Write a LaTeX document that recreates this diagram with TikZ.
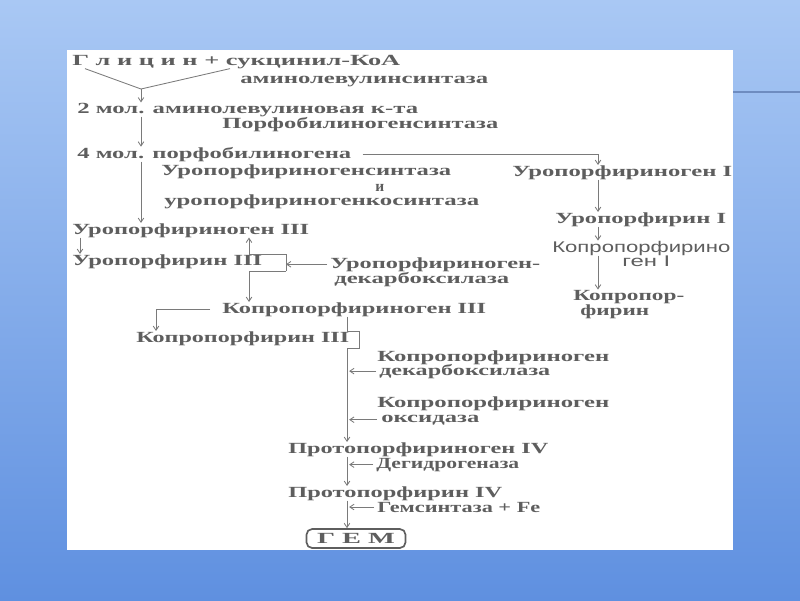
\documentclass[tikz,border=0pt]{standalone}
\usepackage{fontspec}
\setmainfont{Liberation Serif}
\newfontfamily\sansface{Liberation Sans}
\usetikzlibrary{arrows.meta,calc}
\definecolor{skytop}{HTML}{A9C8F4}
\definecolor{skymid}{HTML}{88AEEA}
\definecolor{skybot}{HTML}{5F90E0}
\definecolor{skyline}{HTML}{6E8CC0}
\colorlet{ink}{black!63}
\colorlet{linkgray}{black!52}
\newlength\px
\setlength\px{0.025cm}
\newcommand{\sx}[2]{\resizebox{#1\px}{\height}{#2}}
\tikzset{
  >={Straight Barb[length=3pt,width=4pt]},
  lbl/.style = {anchor=base west, inner sep=0pt, text=ink,
    font=\fontsize{11}{13}\selectfont\bfseries},
  link/.style = {draw=linkgray, line width=0.6pt},
  hembox/.style = {draw=ink, line width=1.2pt, rounded corners=4pt, inner sep=0pt,
    minimum width=99\px, minimum height=19\px, text=ink,
    font=\fontsize{11}{13}\selectfont\bfseries}
}

\begin{document}
\begin{tikzpicture}[x=0.025cm,y=-0.025cm]
  \useasboundingbox (0,0) rectangle (800,600);
  \shade[top color=skytop,middle color=skymid,bottom color=skybot] (0,0) rectangle (800,600);
  \draw[skyline,line width=0.8pt] (733,92) -- (800,92);
  \fill[white] (67,50) rectangle (733,550);

  \node[lbl] (gly)      at (72,65)   {\sx{328}{Г л и ц и н + сукцинил-КоА}};
  \node[lbl] (als)      at (240,83)  {\sx{248}{аминолевулинсинтаза}};
  \node[lbl] (ala)      at (77,113)  {\sx{341}{2 мол. аминолевулиновая к-та}};
  \node[lbl] (pbgs)     at (222,128) {\sx{276}{Порфобилиногенсинтаза}};
  \node[lbl] (pbg)      at (77,158)  {\sx{274}{4 мол. порфобилиногена}};
  \node[lbl] (uros)     at (161,175) {\sx{290}{Уропорфириногенсинтаза}};
  \node[lbl] (und)      at (375,191) {и};
  \node[lbl] (urocos)   at (164,205) {\sx{315}{уропорфириногенкосинтаза}};
  \node[lbl] (urogen3)  at (72,234)  {\sx{237}{Уропорфириноген III}};
  \node[lbl] (uro3)     at (72,265)  {\sx{190}{Уропорфирин III}};
  \node[lbl] (urod1)    at (330,268) {\sx{210}{Уропорфириноген-}};
  \node[lbl] (urod2)    at (334,283) {\sx{175}{декарбоксилаза}};
  \node[lbl] (copgen3)  at (222,313) {\sx{264}{Копропорфириноген III}};
  \node[lbl] (cop3)     at (136,342) {\sx{213}{Копропорфирин III}};
  \node[lbl] (cpd1)     at (377,361) {\sx{232}{Копропорфириноген}};
  \node[lbl] (cpd2)     at (379,375) {\sx{171}{декарбоксилаза}};
  \node[lbl] (cpo1)     at (377,407) {\sx{232}{Копропорфириноген}};
  \node[lbl] (cpo2)     at (381,422) {\sx{98}{оксидаза}};
  \node[lbl] (protogen) at (288,453) {\sx{260}{Протопорфириноген IV}};
  \node[lbl] (dh)       at (376,468) {\sx{143}{Дегидрогеназа}};
  \node[lbl] (proto)    at (288,497) {\sx{214}{Протопорфирин IV}};
  \node[lbl] (hs)       at (377,512) {\sx{163}{Гемсинтаза + Fe}};
  \node[hembox] (heme)  at (356,538.5) {\sx{78}{Г Е М}};

  \node[lbl] (urogen1)  at (512,176) {\sx{220}{Уропорфириноген I}};
  \node[lbl] (uro1)     at (555,223) {\sx{171}{Уропорфирин I}};
  \node[lbl,font=\fontsize{11}{13}\selectfont\sansface] (copgen1a) at (552,252) {\sx{178}{Копропорфирино}};
  \node[lbl,font=\fontsize{11}{13}\selectfont\sansface] (copgen1b) at (622,266) {\sx{48}{ген I}};
  \node[lbl] (cop1a)    at (573,300) {\sx{111}{Копропор-}};
  \node[lbl] (cop1b)    at (580,315) {\sx{69}{фирин}};

  \coordinate (join) at (141,89);
  \coordinate (mainx) at (141,0);
  \coordinate (leftx) at (80,0);
  \coordinate (upx) at (249,0);
  \coordinate (copx) at (156,0);
  \coordinate (stemx) at (347,0);
  \coordinate (rightx) at (598,0);
  \coordinate (uroTop) at (286,254);
  \coordinate (uroBot) at (286,271);
  \coordinate (capTop) at (359,331);
  \coordinate (capBot) at (359,348);

  \draw[link] ($(gly.south west)+(13,0)$) -- (join);
  \draw[link] ($(gly.south west)+(158,0)$) -- (join);
  \draw[link,->] (join) -- (ala.north -| join);
  \draw[link,->] (ala.south -| mainx) -- (pbg.north -| mainx);
  \draw[link,->] (pbg.south -| mainx) -- (urogen3.north -| mainx);
  \draw[link,->] ($(pbg.east)+(11,0)$) -- (pbg.east -| rightx) -- (urogen1.north -| rightx);
  \draw[link,->] (urogen1.south -| rightx) -- (uro1.north -| rightx);
  \draw[link,->] (uro1.south -| rightx) -- (copgen1a.north -| rightx);
  \draw[link,->] (copgen1a.south -| rightx) -- (cop1a.north -| rightx);

  \draw[link,->] (urogen3.south -| leftx) -- (uro3.north -| leftx);
  \draw[link,->] (uroTop) -| (urogen3.south -| upx);
  \draw[link] (uroTop) -- (uroBot);
  \draw[link,->] (uroBot) -| (copgen3.north -| upx);
  \draw[link,->] ($(urod1.west)+(-3,0)$) -- (urod1.west -| uroTop);
  \draw[link,->] ($(copgen3.west)+(-12,0)$) -| (cop3.north -| copx);

  \draw[link,->] (copgen3.south -| stemx) |- (capTop) -- (capBot) -| (protogen.north -| stemx);
  \draw[link,->,shorten >=1.5pt] ($(cpd2.west)+(-3,0)$) -- (cpd2.west -| stemx);
  \draw[link,->,shorten >=1.5pt] ($(cpo2.west)+(-4,0)$) -- (cpo2.west -| stemx);
  \draw[link,->] (protogen.south -| stemx) -- (proto.north -| stemx);
  \draw[link,->,shorten >=1.5pt] ($(dh.west)+(-3,0)$) -- (dh.west -| stemx);
  \draw[link,->] (proto.south -| stemx) -- (heme.north -| stemx);
  \draw[link,->,shorten >=1.5pt] ($(hs.west)+(-3,0)$) -- (hs.west -| stemx);
\end{tikzpicture}
\end{document}
